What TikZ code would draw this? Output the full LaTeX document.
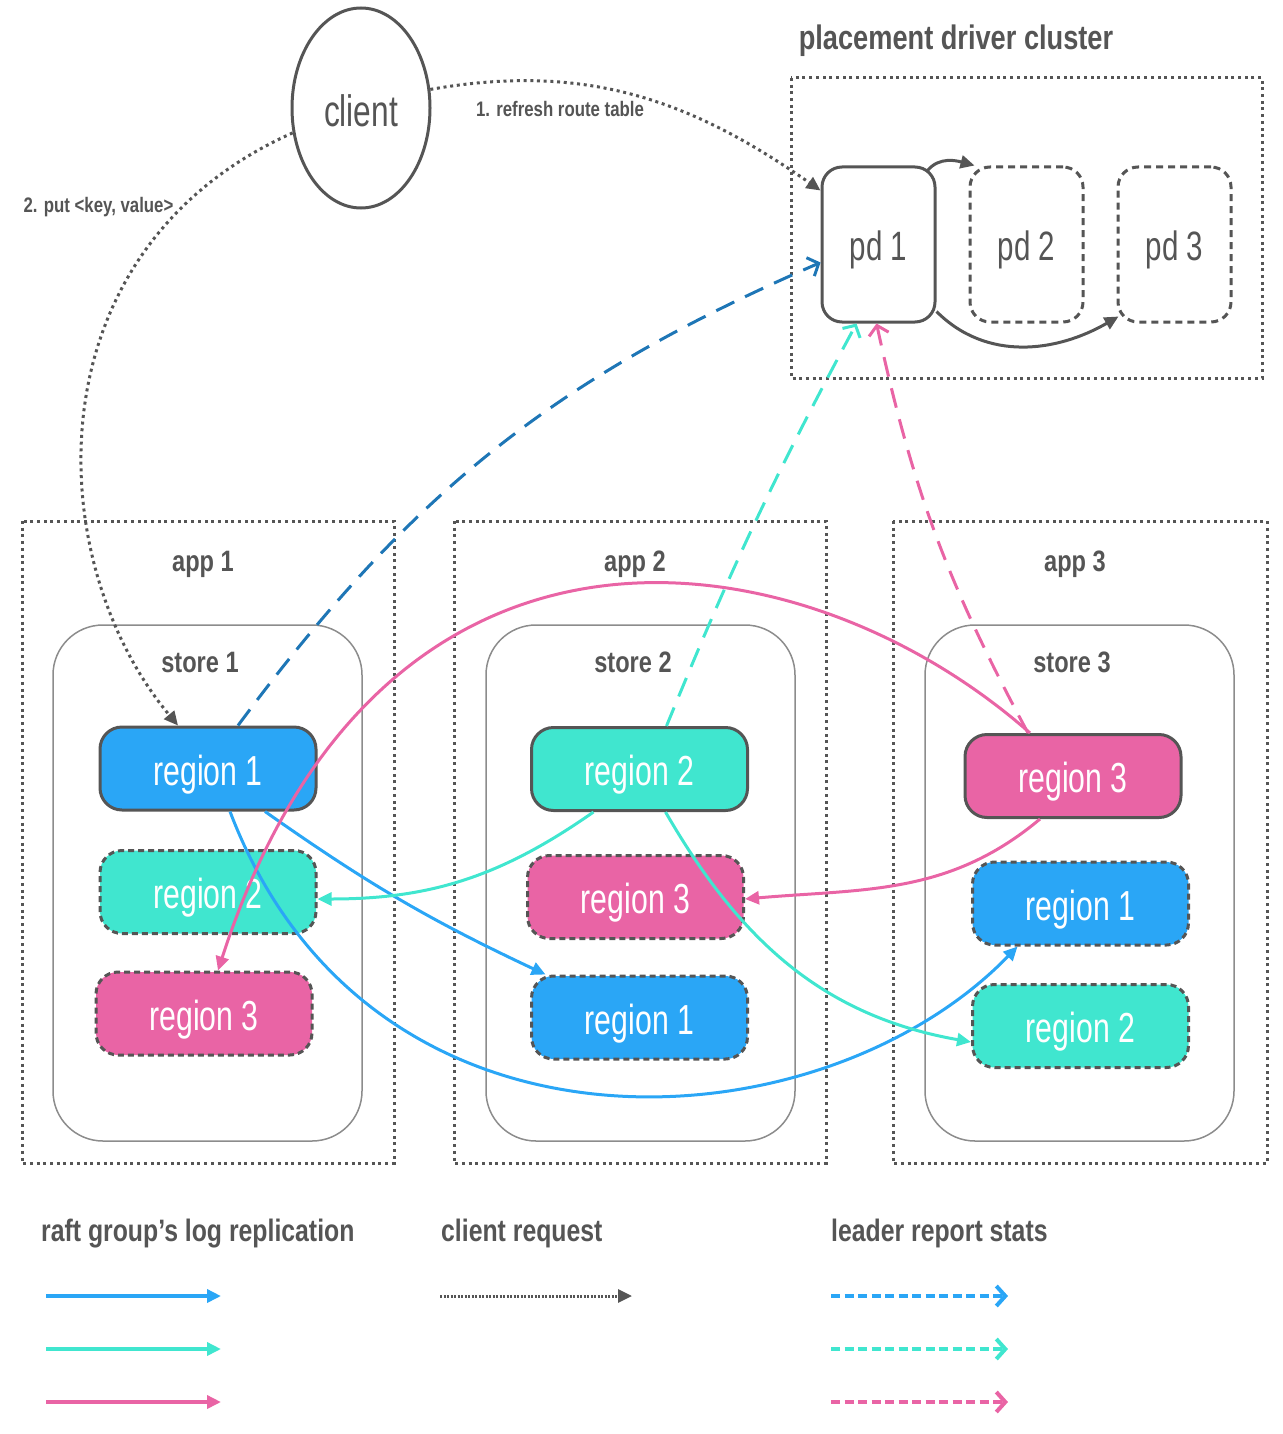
\documentclass[tikz,border=0pt]{standalone}
\usepackage{fontspec}
\setmainfont[FakeStretch=0.72]{Liberation Sans}
\newfontfamily\headfont[FakeStretch=0.80]{Liberation Sans}
\usetikzlibrary{arrows.meta,shapes.geometric}
\definecolor{sora}{HTML}{2AA6F6}
\definecolor{hakka}{HTML}{40E6CF}
\definecolor{momo}{HTML}{E964A5}
\definecolor{aizome}{HTML}{1E76B6}
\definecolor{nezumi}{HTML}{555555}
\definecolor{hai}{HTML}{8C8C8C}

\begin{document}
\begin{tikzpicture}[x=1pt, y=-1pt,
    every node/.style={text=nezumi},
    region/.style={minimum width=216pt, minimum height=83pt, inner sep=0pt, text height=33pt, text depth=0pt, rounded corners=22pt, draw=nezumi, line width=3pt, text=white, font=\fontsize{42}{48}\selectfont},
    replica/.style={region, dash pattern=on 6pt off 4pt},
    pdbox/.style={minimum width=113pt, minimum height=155pt, inner sep=0pt, text height=31pt, text depth=0pt, rounded corners=20pt, draw=nezumi, line width=3pt, font=\fontsize{41}{48}\selectfont},
    storebox/.style={draw=hai, line width=1.5pt, rounded corners=50pt},
    appbox/.style={draw=nezumi, line width=3pt, dash pattern=on 3pt off 3.7pt},
    raft/.style={line width=3pt, -{Triangle[length=14pt, width=13pt]}},
    report/.style={line width=3pt, dash pattern=on 20pt off 12pt, -{Straight Barb[length=9pt, width=20pt]}},
    request/.style={nezumi, line width=3pt, dash pattern=on 3pt off 3.7pt, -{Triangle[length=14pt, width=13pt]}},
    small/.style={font=\headfont\bfseries\fontsize{21}{24}\selectfont, anchor=base},
    title/.style={font=\headfont\bfseries\fontsize{29.5}{34}\selectfont, anchor=base},
    legend/.style={font=\headfont\bfseries\fontsize{31}{36}\selectfont, anchor=base west, inner sep=0pt}
]
    \useasboundingbox (0,0) rectangle (1282,1434);

    \node[ellipse, draw=nezumi, line width=3pt, minimum width=138pt, minimum height=200pt, inner sep=0pt, text height=38pt, text depth=0pt, font=\fontsize{44}{48}\selectfont] (client) at (361,108) {client};
    \node[small] (step1) at (560,117) {1. refresh route table};
    \node[small] (step2) at (98.5,212) {2. put <key, value>};

    \node[title, font=\headfont\bfseries\fontsize{34}{40}\selectfont] (pdc) at (956,50) {placement driver cluster};
    \draw[appbox] (791,78) rectangle (1262,378);
    \node[pdbox] (pd1) at (878.5,244.5) {pd 1};
    \node[pdbox, dash pattern=on 7pt off 5pt] (pd2) at (1026.5,244.5) {pd 2};
    \node[pdbox, dash pattern=on 7pt off 5pt] (pd3) at (1174.5,244.5) {pd 3};
    \draw[nezumi, line width=3pt, -{Triangle[length=14pt, width=13pt]}] ([xshift=-9pt, yshift=-5pt]pd1.north east) to[out=50, in=165] ([xshift=6pt]pd2.north west);
    \draw[nezumi, line width=3pt, -{Triangle[length=14pt, width=13pt]}] ([yshift=12pt]pd1.south east) to[out=-45, in=-150] ([xshift=2pt, yshift=7pt]pd3.south west);

    \foreach \i/\l/\r/\s in {1/22/394/53, 2/454/826/486, 3/893/1267/925} {
        \draw[appbox] (\l,521) rectangle (\r,1163);
        \draw[storebox] (\s,625) rectangle ++(309,516);
        \node[title] (app\i) at ({(\l+\r)/2-5},571) {app \i};
        \node[title] (store\i) at ({\s+147},672) {store \i};
    }

    \node[region, fill=sora] (r1s1) at (208,768.5) {region 1};
    \node[replica, fill=hakka] (r2s1) at (208,892) {region 2};
    \node[replica, fill=momo] (r3s1) at (204,1013.5) {region 3};
    \node[region, fill=hakka] (r2s2) at (639.5,769) {region 2};
    \node[replica, fill=momo] (r3s2) at (635.5,897) {region 3};
    \node[replica, fill=sora] (r1s2) at (639.5,1017.5) {region 1};
    \node[region, fill=momo] (r3s3) at (1073,776) {region 3};
    \node[replica, fill=sora] (r1s3) at (1080.5,903.5) {region 1};
    \node[replica, fill=hakka] (r2s3) at (1080.5,1026) {region 2};

    \draw[request] (client.15) to[out=10, in=145] ([yshift=54pt]pd1.west);
    \draw[request] (client.200) .. controls (30,250) and (40,560) .. ([xshift=-30pt]r1s1.north);

    \draw[report, aizome] ([xshift=30pt]r1s1.north) to[bend left=15] ([yshift=-18pt]pd1.west);
    \draw[report, hakka] ([xshift=27pt]r2s2.north) to[bend left=3] ([xshift=-22pt]pd1.south);
    \draw[report, momo] ([xshift=-45pt]r3s3.north) to[bend left=8] ([xshift=-2pt]pd1.south);

    \draw[raft, sora] ([xshift=57pt]r1s1.south) to[bend right=5] ([xshift=-94pt]r1s2.north);
    \draw[raft, sora] ([xshift=22pt]r1s1.south) .. controls (370,1180) and (820,1150) .. ([xshift=-63pt]r1s3.south);
    \draw[raft, hakka] ([xshift=-46pt]r2s2.south) to[out=-145, in=0] ([yshift=-7pt]r2s1.east);
    \draw[raft, hakka] ([xshift=26pt]r2s2.south) to[out=-60, in=170] ([yshift=-16pt]r2s3.west);
    \draw[raft, momo] ([xshift=-43pt]r3s3.north) .. controls (800,530) and (380,470) .. ([xshift=14pt]r3s1.north);
    \draw[raft, momo] ([xshift=-33pt]r3s3.south) to[out=-140, in=5] ([yshift=-2pt]r3s2.east);

    \node[legend] (lraft) at (41,1241) {raft group’s log replication};
    \node[legend] (lreq) at (441,1241) {client request};
    \node[legend] (lrep) at (831,1241) {leader report stats};
    \coordinate (qa) at (440,1296);
    \coordinate (qb) at (632,1296);
    \draw[request, dash pattern=on 2pt off 1.5pt] (qa) -- (qb);
    \foreach \c [count=\k] in {sora, hakka, momo} {
        \coordinate (ra\k) at (46,1243+53*\k);
        \coordinate (rb\k) at (221,1243+53*\k);
        \coordinate (sa\k) at (831,1243+53*\k);
        \coordinate (sb\k) at (1008,1243+53*\k);
        \draw[raft, \c, line width=4pt] (ra\k) -- (rb\k);
        \draw[report, \c, line width=4pt, dash pattern=on 9pt off 4.5pt] (sa\k) -- (sb\k);
    }
\end{tikzpicture}
\end{document}
